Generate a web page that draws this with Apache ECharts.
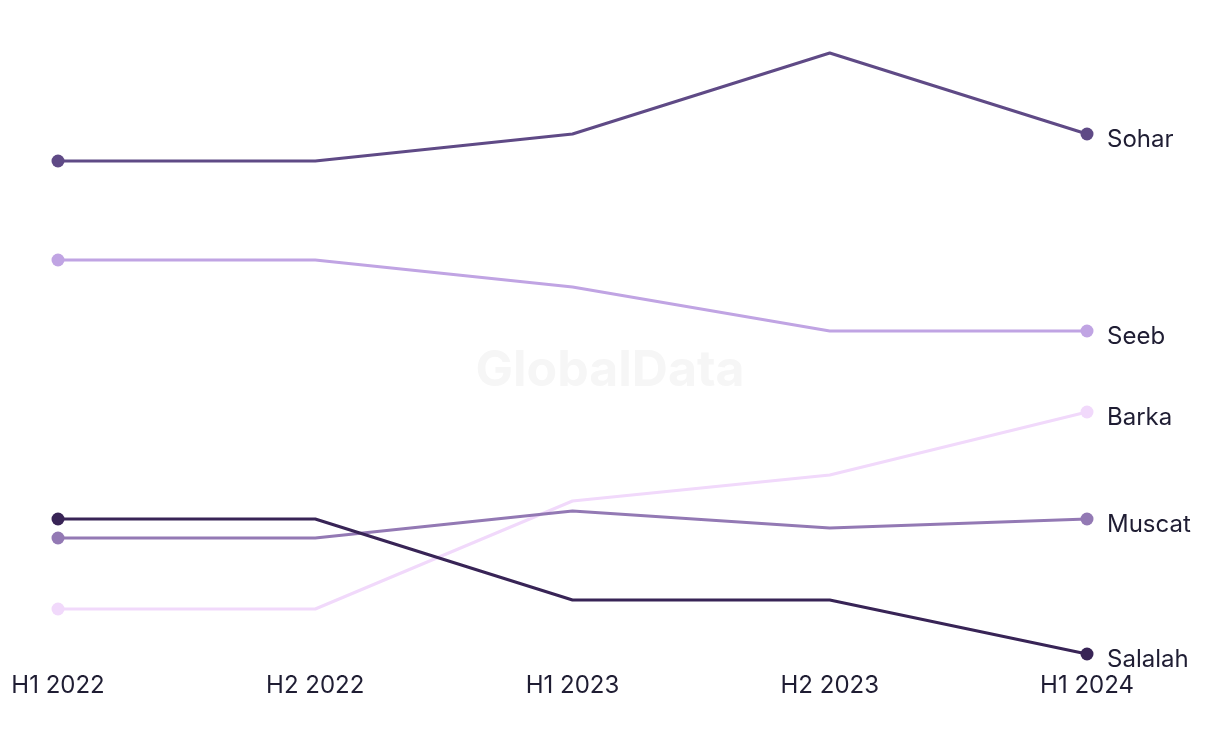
<!DOCTYPE html>
<html>
<head>
<meta charset="utf-8">
<script src="https://cdn.jsdelivr.net/npm/echarts@6/dist/echarts.min.js"></script>
<style>html,body{margin:0;padding:0;background:#fff}#c{width:1220px;height:744px}</style>
</head>
<body>
<div id="c"></div>
<script>
const categories = ['H1 2022', 'H2 2022', 'H1 2023', 'H2 2023', 'H1 2024'];
const sohar   = [51.9, 51.9, 54.6, 62.7, 54.6];
const seeb    = [42.0, 42.0, 39.3, 34.9, 34.9];
const barka   = [7.1, 7.1, 17.9, 20.5, 26.8];
const muscat  = [14.2, 14.2, 16.9, 15.2, 16.1];
const salalah = [16.1, 16.1, 8.0, 8.0, 2.6];

const seriesDefs = [
  { name: 'Sohar', data: sohar, color: '#5f4a86' },
  { name: 'Seeb', data: seeb, color: '#c0a4e3' },
  { name: 'Barka', data: barka, color: '#f1d9fb' },
  { name: 'Muscat', data: muscat, color: '#9379b4' },
  { name: 'Salalah', data: salalah, color: '#382456' }
];

const textColor = '#1f1d33';
const fontFamily = 'Inter, "Noto Sans", sans-serif';

const chart = echarts.init(document.getElementById('c'));
chart.setOption({
  backgroundColor: '#ffffff',
  animation: false,
  graphic: [{
    type: 'text', left: 'center', top: 346, z: 0,
    style: { text: 'GlobalData', fontSize: 50, fontWeight: 'bold', fill: '#f6f6f6', fontFamily: fontFamily }
  }],
  grid: { left: 58, right: 133, top: 40, bottom: 64 },
  xAxis: {
    type: 'category', data: categories, boundaryGap: false,
    axisLine: { show: false }, axisTick: { show: false }, splitLine: { show: false },
    axisLabel: { color: textColor, fontSize: 24, fontFamily: fontFamily, margin: -6 }
  },
  yAxis: { type: 'value', min: 0, max: 64, show: false, splitLine: { show: false } },
  series: seriesDefs.map(s => ({
    name: s.name, type: 'line', data: s.data.map((v, i) => ({
      value: v,
      symbolSize: (i === 0 || i === s.data.length - 1) ? 13 : 0
    })),
    symbol: 'circle', showSymbol: true,
    lineStyle: { width: 3, color: s.color },
    itemStyle: { color: s.color },
    endLabel: { show: true, formatter: s.name, color: textColor, fontSize: 24, fontFamily: fontFamily, distance: 20, offset: [0, 6] },
    z: 2
  }))
});
</script>
</body>
</html>
